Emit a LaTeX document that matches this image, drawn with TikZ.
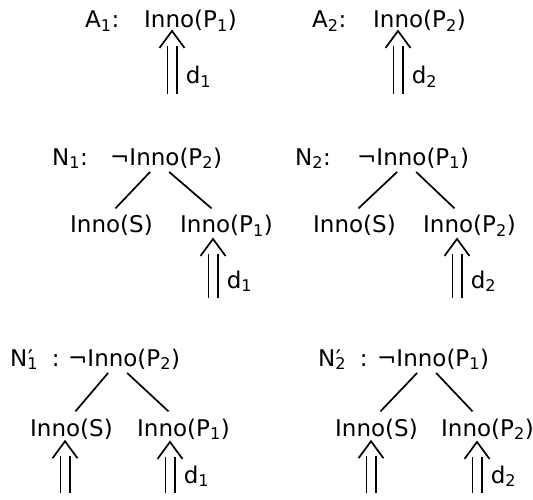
\documentclass[tikz,border=0pt]{standalone}
\usepackage{fontspec}
\setmainfont{DejaVu Sans}
\usetikzlibrary{calc,decorations.markings}

\newcommand{\primedN}[1]{N\rlap{\kern0.5pt′}\textsubscript{#1}}

\begin{document}
\begin{tikzpicture}[x=1pt,y=-1pt,
  formula/.style={anchor=base west,inner sep=0pt,font=\fontsize{23}{27}\selectfont},
  branch/.style={line width=1.7pt},
  derive/.style={double,double distance=8pt,line width=1.5pt,shorten >=15pt,
    postaction={decorate,decoration={markings,mark=at position 1 with
      {\draw[line width=1.7pt,shorten >=0pt] (-17pt,12.5pt) -- (0,0) -- (-17pt,-12.5pt);}}}},
  dlab/.style={at start,anchor=base west,inner sep=0pt,xshift=13pt,yshift=10pt,
    font=\fontsize{23}{27}\selectfont}]
  \useasboundingbox (0,0) rectangle (533,500);

  \node[formula] (a1) at (85,28) {A\textsubscript{1}:};
  \node[formula] (f1) at (144,28) {Inno(P\textsubscript{1})};
  \node[formula] (a2) at (312,28) {A\textsubscript{2}:};
  \node[formula] (f2) at (373,28) {Inno(P\textsubscript{2})};
  \coordinate (s1) at (172,94);
  \coordinate (s2) at (398,94);
  \draw[derive] (s1) -- node[dlab] {d\textsubscript{1}} ($(s1 |- f1.south)+(0,-1)$);
  \draw[derive] (s2) -- node[dlab] {d\textsubscript{2}} ($(s2 |- f2.south)+(0,-1)$);

  \node[formula] (n1) at (52,165) {N\textsubscript{1}:};
  \node[formula] (g1) at (110,165) {¬Inno(P\textsubscript{2})};
  \node[formula] (g1s) at (70,233) {Inno(S)};
  \node[formula] (g1p) at (180,233) {Inno(P\textsubscript{1})};
  \draw[branch] ($(g1.south)+(-16,3)$) -- ($(g1s.north)+(4,-7)$);
  \draw[branch] ($(g1.south)+(3,3)$) -- ($(g1p.north)+(-15,-7)$);
  \coordinate (s3) at (213,298);
  \draw[derive] (s3) -- node[dlab] {d\textsubscript{1}} ($(s3 |- g1p.south)+(0,2)$);

  \node[formula] (n2) at (295,165) {N\textsubscript{2}:};
  \node[formula] (g2) at (357,165) {¬Inno(P\textsubscript{1})};
  \node[formula] (g2s) at (313,233) {Inno(S)};
  \node[formula] (g2p) at (423,233) {Inno(P\textsubscript{2})};
  \draw[branch] ($(g2.south)+(-16,3)$) -- ($(g2s.north)+(4,-7)$);
  \draw[branch] ($(g2.south)+(3,3)$) -- ($(g2p.north)+(-15,-7)$);
  \coordinate (s4) at (457,298);
  \draw[derive] (s4) -- node[dlab] {d\textsubscript{2}} ($(s4 |- g2p.south)+(0,2)$);

  \node[formula] (m1) at (10,366) {\primedN{1}\hspace{0.6em}:};
  \node[formula] (h1) at (68,366) {¬Inno(P\textsubscript{2})};
  \node[formula] (h1s) at (30,436) {Inno(S)};
  \node[formula] (h1p) at (137,436) {Inno(P\textsubscript{1})};
  \draw[branch] ($(h1.south)+(-16,3)$) -- ($(h1s.north)+(4,-7)$);
  \draw[branch] ($(h1.south)+(3,3)$) -- ($(h1p.north)+(-15,-7)$);
  \coordinate (s5) at (65,493);
  \coordinate (s6) at (170,493);
  \draw[derive] (s5) -- ($(s5 |- h1s.south)+(0,2)$);
  \draw[derive] (s6) -- node[dlab] {d\textsubscript{1}} ($(s6 |- h1p.south)+(0,2)$);

  \node[formula] (m2) at (318,366) {\primedN{2}\hspace{0.6em}:};
  \node[formula] (h2) at (377,366) {¬Inno(P\textsubscript{1})};
  \node[formula] (h2s) at (335,436) {Inno(S)};
  \node[formula] (h2p) at (441,436) {Inno(P\textsubscript{2})};
  \draw[branch] ($(h2.south)+(-16,3)$) -- ($(h2s.north)+(4,-7)$);
  \draw[branch] ($(h2.south)+(3,3)$) -- ($(h2p.north)+(-15,-7)$);
  \coordinate (s7) at (371,493);
  \coordinate (s8) at (477,493);
  \draw[derive] (s7) -- ($(s7 |- h2s.south)+(0,2)$);
  \draw[derive] (s8) -- node[dlab] {d\textsubscript{2}} ($(s8 |- h2p.south)+(0,2)$);
\end{tikzpicture}
\end{document}
